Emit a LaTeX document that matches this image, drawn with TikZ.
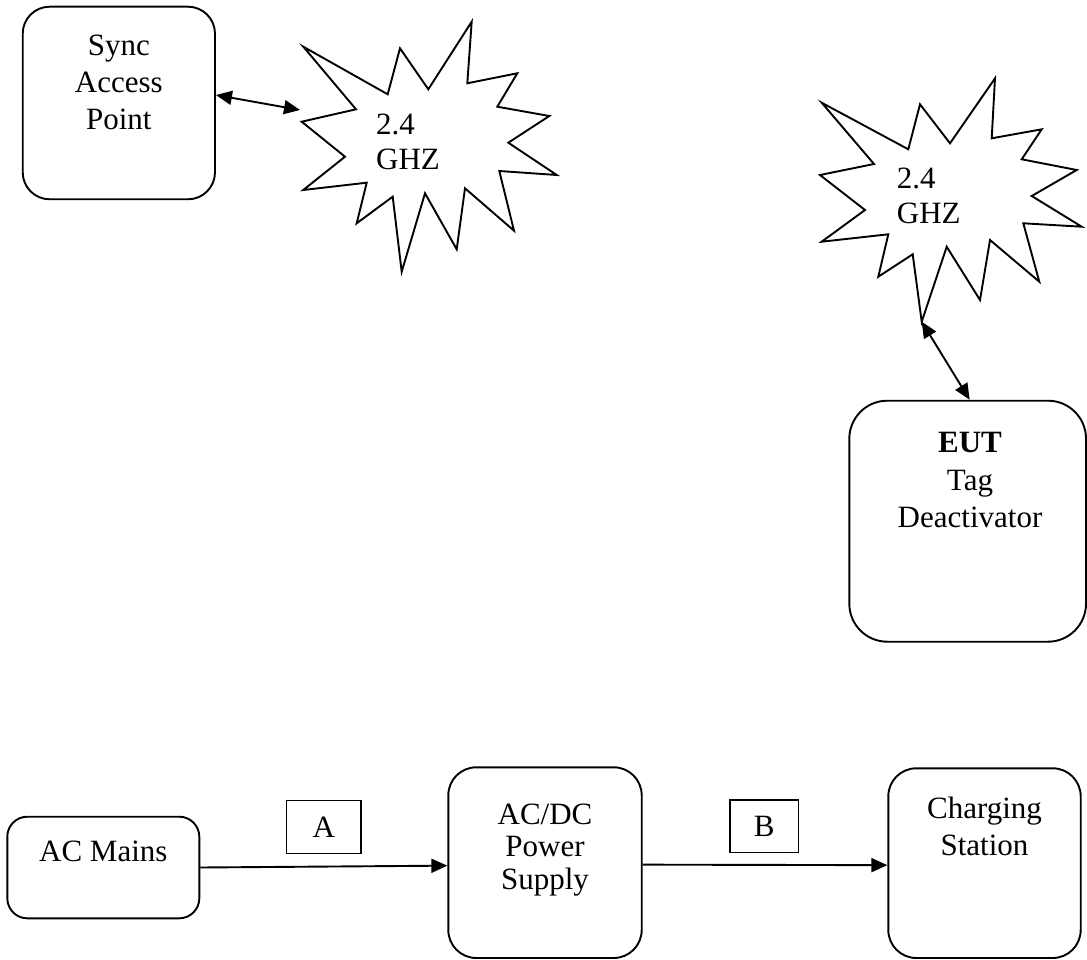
\documentclass[tikz,border=0pt]{standalone}
\usepackage{fontspec}
\setmainfont{Liberation Serif}
\usetikzlibrary{arrows.meta,calc}
\begin{document}
\begin{tikzpicture}[x=1pt,y=-1pt,
  rbox/.style={draw,line width=1.9pt,inner sep=0pt,rounded corners=#1},
  txt/.style={inner sep=0pt,align=center},
  lbox/.style={draw,line width=1.4pt,inner sep=0pt,font=\fontsize{31}{36}\selectfont},
  burst/.style={draw,line width=1.9pt,fill=white,line join=miter},
  conn/.style={line width=1.9pt,-{Triangle[length=16pt,width=14pt]}},
  dconn/.style={line width=1.9pt,{Triangle[length=16pt,width=14pt]}-{Triangle[length=16pt,width=14pt]}}]
\useasboundingbox (0,0) rectangle (1087,960);

% boxes
\node[rbox=27pt,minimum width=192.3pt,minimum height=192.6pt] (sync) at (118.85,103) {};
\node[rbox=38pt,minimum width=236.7pt,minimum height=241pt] (eut) at (967.65,521.2) {};
\node[rbox=20pt,minimum width=192pt,minimum height=101.6pt] (acm) at (103.3,867.5) {};
\node[rbox=28pt,minimum width=193.4pt,minimum height=190.7pt] (acdc) at (545,862.65) {};
\node[rbox=28pt,minimum width=192.4pt,minimum height=189.7pt] (cs) at (984.5,863.15) {};

% box texts
\node[txt,anchor=north,font=\fontsize{31}{37}\selectfont] (synct) at (118.85,35) {Sync\\Access\\Point};
\node[txt,anchor=north,font=\fontsize{31}{37.3}\selectfont] (eutt) at (970,432.3) {\textbf{EUT}\\Tag\\Deactivator};
\node[txt,anchor=north,font=\fontsize{31}{36}\selectfont] (acmt) at (103.3,841) {AC Mains};
\node[txt,anchor=north,font=\fontsize{31}{32.5}\selectfont] (acdct) at (545,803.5) {AC/DC\\Power\\Supply};
\node[txt,anchor=north,font=\fontsize{31}{37}\selectfont] (cst) at (984.5,797) {Charging\\Station};

% starburst 1
\draw[burst] (303.3,46.7) -- (387.7,94.3) -- (400,48.3) -- (428.3,89.3) -- (471.7,21.7)
  -- (467.3,83.3) -- (517.3,73.3) -- (497.3,106.7) -- (549.3,116) -- (508.3,142.7)
  -- (556.7,175) -- (499.3,171) -- (514,230.7) -- (465,188.3) -- (456.7,249.3)
  -- (425,193.3) -- (401.7,271.7) -- (392.7,196.7) -- (356.7,223.3) -- (366.7,182.7)
  -- (303.3,190) -- (345,156.7) -- (301.7,121.7) -- (356,109.3) -- cycle;
\coordinate (sb1w) at (300,110);
\node[txt,align=left,anchor=north west,font=\fontsize{31}{35}\selectfont] (sb1t) at (376,114) {2.4\\GHZ};

% starburst 2
\draw[burst] (821.7,102.7) -- (908.3,149.3) -- (920,104.3) -- (950,143.3) -- (995,78.3)
  -- (991.7,138.3) -- (1041.7,129.3) -- (1021.7,159.3) -- (1076.7,170) -- (1031.7,196)
  -- (1081.7,226.7) -- (1023.3,223.3) -- (1039.3,281.7) -- (990,240) -- (980,300)
  -- (946.7,246.7) -- (921.7,321.7) -- (912.7,254.3) -- (878.3,276.7) -- (888.3,234.3)
  -- (821.7,241.7) -- (865,210) -- (820,175) -- (874,164) -- cycle;
\coordinate (sb2s) at (921.7,321.7);
\node[txt,align=left,anchor=north west,font=\fontsize{31}{35}\selectfont] (sb2t) at (896.7,167.3) {2.4\\GHZ};

% labels
\node[lbox,minimum width=74.3pt,minimum height=52.6pt] (la) at (323.85,827) {A};
\node[lbox,minimum width=68.3pt,minimum height=52.7pt] (lb) at (764.15,826.35) {B};

% connectors
\draw[dconn] ($(sync.east)+(0,-8)$) -- (sb1w);
\draw[dconn] (sb2s) -- ($(eut.north)+(2,0)$);
\draw[conn] (acm.east) -- ($(acdc.west)+(0,3)$);
\draw[conn] ($(acdc.east)+(0,2)$) -- ($(cs.west)+(0,2)$);
\end{tikzpicture}
\end{document}
